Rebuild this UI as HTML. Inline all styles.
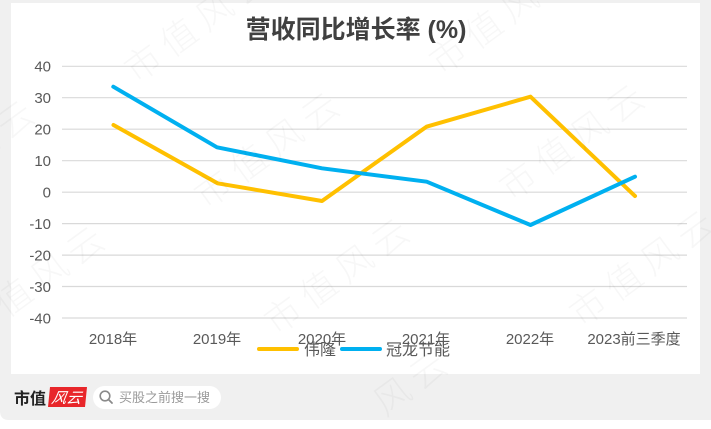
<!DOCTYPE html>
<html><head><meta charset="utf-8"><style>
html,body{margin:0;padding:0;background:#fff;width:711px;height:429px;overflow:hidden;}
svg{display:block;overflow:hidden;}
text{font-family:"Liberation Sans","Noto Sans CJK SC",sans-serif;}
</style></head><body>
<svg width="711" height="429" viewBox="0 0 711 429" xmlns="http://www.w3.org/2000/svg">
<rect x="0" y="0" width="711" height="429" fill="#ffffff"/>
<path d="M0 0 H711 V420 H9 Q0 420 0 411 Z" fill="#f0f0f0"/>
<rect x="11" y="3" width="689" height="371" fill="#ffffff"/>
<text x="356" y="38" text-anchor="middle" font-size="25" font-weight="bold" fill="#404040">营收同比增长率 (%)</text>
<g stroke="#d9d9d9" stroke-width="1.2">
<line x1="62" y1="66.3" x2="687" y2="66.3"/>
<line x1="62" y1="97.7" x2="687" y2="97.7"/>
<line x1="62" y1="129.2" x2="687" y2="129.2"/>
<line x1="62" y1="160.7" x2="687" y2="160.7"/>
<line x1="62" y1="192.2" x2="687" y2="192.2"/>
<line x1="62" y1="223.6" x2="687" y2="223.6"/>
<line x1="62" y1="255.1" x2="687" y2="255.1"/>
<line x1="62" y1="286.5" x2="687" y2="286.5"/>
<line x1="62" y1="318" x2="687" y2="318"/>
</g>
<g font-size="15" fill="#595959" text-anchor="end">
<text x="51" y="71.5">40</text>
<text x="51" y="103">30</text>
<text x="51" y="134.5">20</text>
<text x="51" y="166">10</text>
<text x="51" y="197.5">0</text>
<text x="51" y="229">-10</text>
<text x="51" y="260.5">-20</text>
<text x="51" y="292">-30</text>
<text x="51" y="323.5">-40</text>
</g>
<g font-size="15" fill="#595959" text-anchor="middle">
<text x="113" y="344">2018年</text>
<text x="217" y="344">2019年</text>
<text x="322" y="344">2020年</text>
<text x="426" y="344">2021年</text>
<text x="530" y="344">2022年</text>
<text x="634" y="344">2023前三季度</text>
</g>
<polyline points="113.5,125 217.5,183.3 322,201 426.5,126.7 530.5,96.7 635,196" fill="none" stroke="#FFC000" stroke-width="4" stroke-linejoin="round" stroke-linecap="round"/>
<polyline points="113.3,86.7 217,147.3 322,168.3 426.7,181.7 530.5,225 635,176.7" fill="none" stroke="#00B0F0" stroke-width="4" stroke-linejoin="round" stroke-linecap="round"/>
<line x1="259" y1="349" x2="297" y2="349" stroke="#FFC000" stroke-width="4" stroke-linecap="round"/>
<text x="304" y="355" font-size="16" fill="#595959">伟隆</text>
<line x1="342" y1="349" x2="380" y2="349" stroke="#00B0F0" stroke-width="4" stroke-linecap="round"/>
<text x="386" y="355" font-size="16" fill="#595959">冠龙节能</text>
<!-- footer -->
<text x="14" y="404" font-size="16" font-weight="bold" fill="#222" font-family="'Noto Serif CJK SC','Noto Sans CJK SC',serif">市值</text>
<path d="M50 387 H87 L85 407 H48 Z" fill="#e8262a"/>
<text x="52" y="403" font-size="15" fill="#fff" font-style="italic" font-family="'Noto Serif CJK SC',serif" transform="skewX(-10) translate(70 0)">风云</text>
<rect x="93" y="386" width="128" height="23" rx="11.5" fill="#ffffff"/>
<circle cx="105" cy="396" r="4.8" fill="none" stroke="#8a8a8a" stroke-width="1.6"/>
<line x1="108.5" y1="399.5" x2="112" y2="403" stroke="#8a8a8a" stroke-width="1.8" stroke-linecap="round"/>
<text x="119" y="402" font-size="13" fill="#9a9a9a">买股之前搜一搜</text>
<!-- watermarks -->
<g font-size="36" fill="rgba(0,0,0,0.032)" font-family="'Noto Sans CJK SC',sans-serif" font-weight="300" letter-spacing="8">
<g transform="translate(143 63) rotate(-36)"><text x="-18" y="13">市值风云</text></g>
<g transform="translate(448 55) rotate(-36)"><text x="-18" y="13">市值风云</text></g>
<g transform="translate(213 189) rotate(-36)"><text x="-18" y="13">市值风云</text></g>
<g transform="translate(518 181) rotate(-36)"><text x="-18" y="13">市值风云</text></g>
<g transform="translate(-92 197) rotate(-36)"><text x="-18" y="13">市值风云</text></g>
<g transform="translate(283 315) rotate(-36)"><text x="-18" y="13">市值风云</text></g>
<g transform="translate(588 307) rotate(-36)"><text x="-18" y="13">市值风云</text></g>
<g transform="translate(-22 323) rotate(-36)"><text x="-18" y="13">市值风云</text></g>
<g transform="translate(392 396) rotate(-36)"><text x="-18" y="13">风云</text></g>
</g>
</svg>
</body></html>
